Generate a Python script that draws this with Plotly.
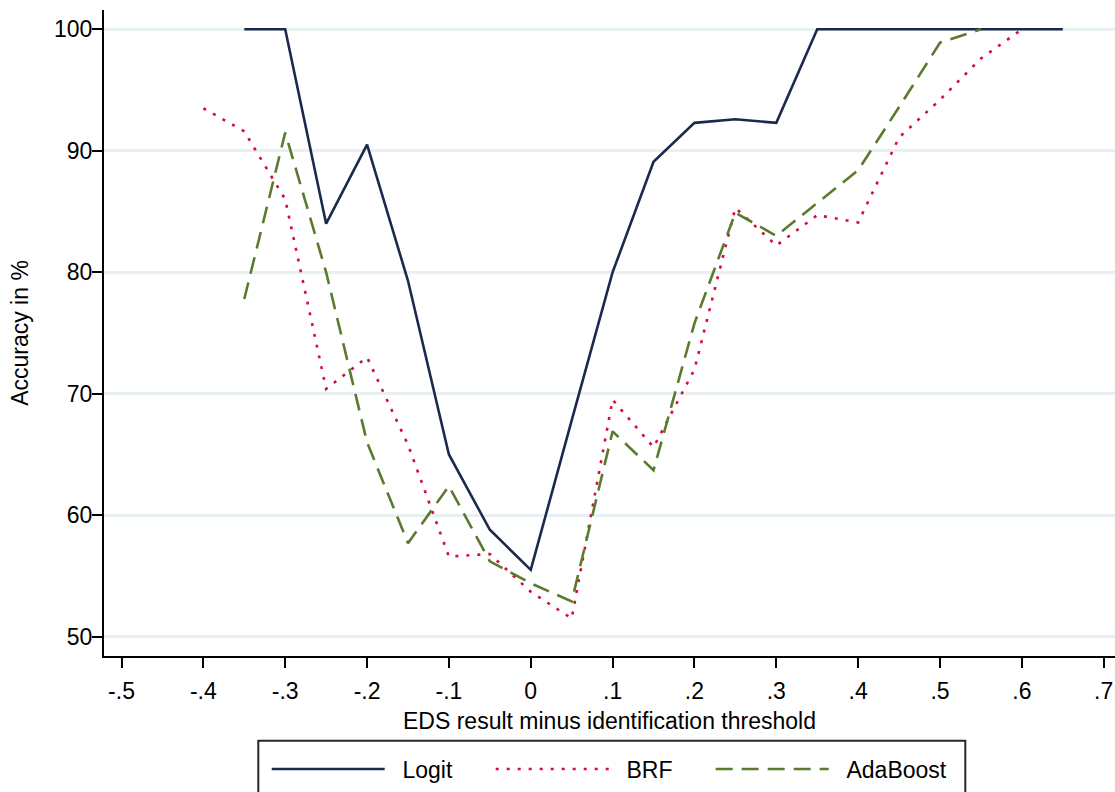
import plotly.graph_objects as go

# ---- data ----
x_vals = [-0.40, -0.35, -0.30, -0.25, -0.20, -0.15, -0.10, -0.05, 0.00, 0.05, 0.10,
          0.15, 0.20, 0.25, 0.30, 0.35, 0.40, 0.45, 0.50, 0.55, 0.60, 0.65]
logit = [None, 100, 100, 84.0, 90.5, 79.3, 65.0, 58.8, 55.5, 67.8, 80.0,
         89.1, 92.3, 92.6, 92.3, 100, 100, 100, 100, 100, 100, 100]
brf = [93.5, 91.6, 86.0, 70.4, 73.0, 65.8, 56.6, 56.8, 53.7, 51.5, 69.5,
       65.6, 72.0, 85.3, 82.2, 84.7, 84.1, 91.1, 94.2, 97.6, 100, None]
adaboost = [None, 77.8, 91.5, 80.0, 66.0, 57.7, 62.4, 56.2, 54.4, 52.9, 66.9,
            63.7, 75.8, 84.9, 83.0, 85.7, 88.4, 93.6, 98.9, 100, None, None]

series_names = ["Logit", "BRF", "AdaBoost"]

x_ticks = [-0.5, -0.4, -0.3, -0.2, -0.1, 0, 0.1, 0.2, 0.3, 0.4, 0.5, 0.6, 0.7]
x_tick_labels = ["-.5", "-.4", "-.3", "-.2", "-.1", "0", ".1", ".2", ".3", ".4", ".5", ".6", ".7"]
y_ticks = [50, 60, 70, 80, 90, 100]

FONT = "Liberation Sans, Arial, sans-serif"
NB = "\u00a0\u00a0"  # small gap between legend key and label

fig = go.Figure()
fig.add_trace(go.Scatter(x=x_vals, y=logit, name=NB + series_names[0], mode="lines",
                         legendwidth=96,
                         line=dict(color="#1b2a4c", width=2.6)))
fig.add_trace(go.Scatter(x=x_vals, y=brf, name=NB + series_names[1], mode="lines",
                         legendwidth=92,
                         line=dict(color="#d20f3c", width=2.6, dash="3px,8px")))
fig.add_trace(go.Scatter(x=x_vals, y=adaboost, name=NB + series_names[2], mode="lines",
                         legendwidth=135,
                         line=dict(color="#5a7b2e", width=2.6, dash="17px,9px")))

W, H = 1115, 792
ml, mr, mt, mb = 104, 0, 10, 136
pw, ph = W - ml - mr, H - mt - mb


def px_x(p):
    return (p - ml) / pw


def px_y(p):
    return (H - mb - p) / ph


fig.update_layout(
    width=W, height=H,
    margin=dict(l=ml, r=mr, t=mt, b=mb, pad=0),
    paper_bgcolor="white", plot_bgcolor="white",
    font=dict(family=FONT, size=23, color="black"),
    showlegend=True,
    legend=dict(orientation="h", x=px_x(266.7), y=px_y(747.5), xanchor="left", yanchor="top",
                bgcolor="rgba(0,0,0,0)", borderwidth=0, itemwidth=113,
                font=dict(family=FONT, size=23, color="black")),
    xaxis=dict(range=[-0.5214, 0.7138], tickvals=x_ticks, ticktext=x_tick_labels,
               showgrid=False, zeroline=False, showline=True, linecolor="black", linewidth=2,
               ticks="outside", ticklen=10, tickwidth=2, tickcolor="black",
               ticklabelstandoff=3, ticklabeloverflow="allow",
               title=dict(text="EDS result minus identification threshold", standoff=10,
                          font=dict(family=FONT, size=23))),
    yaxis=dict(range=[48.41, 101.59], tickvals=y_ticks,
               showgrid=True, gridcolor="#e9f0f3", gridwidth=2.5, zeroline=False,
               showline=True, linecolor="black", linewidth=2,
               ticks="outside", ticklen=10, tickwidth=2, tickcolor="black",
               ticklabelstandoff=-5,
               title=dict(text="Accuracy in %", standoff=19, font=dict(family=FONT, size=23))),
    shapes=[dict(type="rect", xref="paper", yref="paper",
                 x0=px_x(258.3), x1=px_x(965.3), y0=px_y(740.7), y1=px_y(830),
                 line=dict(color="#262626", width=2), fillcolor="rgba(0,0,0,0)", layer="above")],
)

page_css = ("document.documentElement.style.margin='0';"
            "document.documentElement.style.overflow='hidden';"
            "document.body.style.margin='0';"
            "document.body.style.overflow='hidden';")

fig.write_html("out.html", post_script=page_css, config={"displayModeBar": False})
